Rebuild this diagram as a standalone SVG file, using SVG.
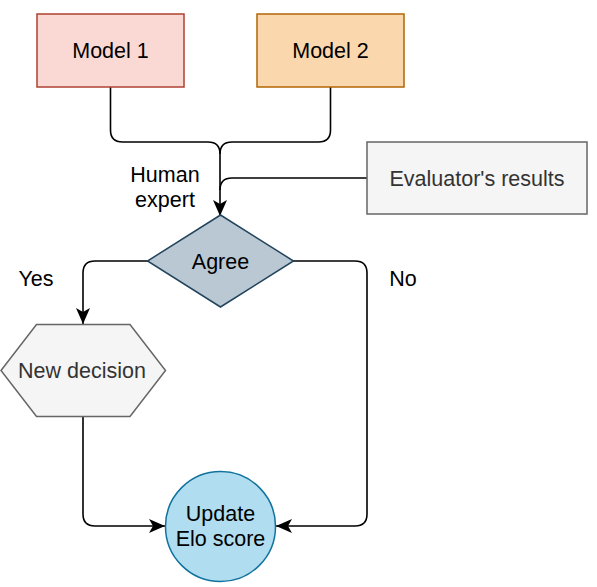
<svg xmlns="http://www.w3.org/2000/svg" width="597" height="587" viewBox="0 0 597 587">
<style>
text{font-family:"Liberation Sans",Arial,Helvetica,sans-serif;font-size:21.5px;fill:#000;text-anchor:middle}
.grey{fill:#333333}
.edge{fill:none;stroke:#000;stroke-width:1.6}
.lbl{text-anchor:middle}
</style>
<defs>
<marker id="arr" viewBox="0 0 16 14" refX="16" refY="7" markerWidth="16" markerHeight="14" markerUnits="userSpaceOnUse" orient="auto">
<path d="M0,0 L16,7 L0,14 L4,7 Z" fill="#000"/>
</marker>
</defs>
<rect width="597" height="587" fill="#ffffff"/>
<g id="connectors">
<path class="edge" d="M110.5,87 V130 Q110.5,142 122.5,142 H208 Q220,142 220,154"/>
<path class="edge" d="M330.5,87 V130 Q330.5,142 318.5,142 H232 Q220,142 220,154 V216" marker-end="url(#arr)"/>
<path class="edge" d="M367,178 H232 Q220,178 220,190"/>
<path class="edge" d="M148,261 H95 Q83,261 83,273 V324" marker-end="url(#arr)"/>
<path class="edge" d="M293,261 H355 Q367,261 367,273 V514 Q367,526 355,526 H276" marker-end="url(#arr)"/>
<path class="edge" d="M83,416.5 V514 Q83,526 95,526 H165" marker-end="url(#arr)"/>
</g>
<g id="model1">
<rect x="37" y="14" width="147" height="73" fill="#fad9d5" stroke="#ae4132" stroke-width="1.5"/>
<text x="110.5" y="57.5">Model 1</text>
</g>
<g id="model2">
<rect x="257" y="14" width="147" height="73" fill="#fad7ac" stroke="#b46504" stroke-width="1.5"/>
<text x="330.5" y="57.5">Model 2</text>
</g>
<g id="evaluator">
<rect x="367" y="142" width="220" height="72" fill="#f5f5f5" stroke="#666666" stroke-width="1.5"/>
<text class="grey" x="477" y="185.5">Evaluator's results</text>
</g>
<g id="human-expert-label">
<text x="165" y="182">Human</text>
<text x="165" y="206.5">expert</text>
</g>
<g id="agree">
<polygon points="220.5,215 293.5,261 220.5,307 147.5,261" fill="#bac8d3" stroke="#23445d" stroke-width="1.5"/>
<text x="220.5" y="268.5">Agree</text>
</g>
<g id="yes-label"><text x="36" y="286">Yes</text></g>
<g id="no-label"><text x="403" y="286">No</text></g>
<g id="new-decision">
<polygon points="1,370.5 36.5,324.5 130,324.5 165.5,370.5 130,416.5 36.5,416.5" fill="#f5f5f5" stroke="#666666" stroke-width="1.5"/>
<text class="grey" x="82" y="377.5">New decision</text>
</g>
<g id="update-elo">
<circle cx="220.5" cy="526.5" r="55" fill="#b1ddf0" stroke="#10739e" stroke-width="1.5"/>
<text x="220.5" y="521">Update</text>
<text x="220.5" y="545.5">Elo score</text>
</g>
</svg>
